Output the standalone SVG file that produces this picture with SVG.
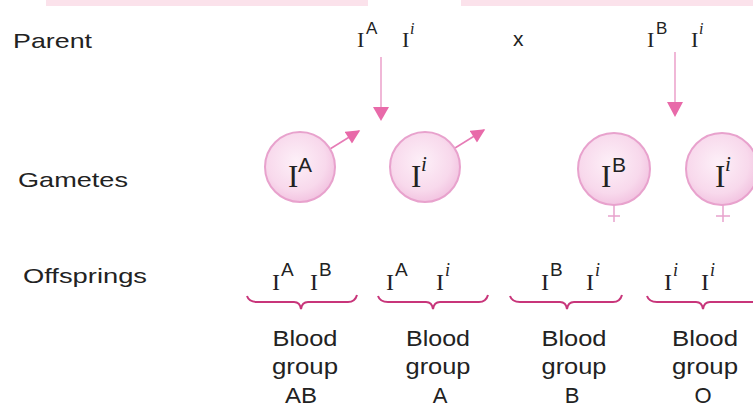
<svg xmlns="http://www.w3.org/2000/svg" width="753" height="407" viewBox="0 0 753 407">
<defs>
<radialGradient id="cg" cx="0.45" cy="0.42" r="0.6">
<stop offset="0" stop-color="#fdf0f8"/>
<stop offset="0.7" stop-color="#f8d9ec"/>
<stop offset="1" stop-color="#f2c2e0"/>
</radialGradient>
<marker id="mhm" viewBox="0 0 10 10" refX="9" refY="5" markerWidth="15" markerHeight="14" markerUnits="userSpaceOnUse" orient="auto">
<path d="M0,0 L10,5 L0,10 z" fill="#e86aa9"/>
</marker>
</defs>
<style>
.lbl{font-family:"Liberation Sans",Arial,sans-serif;font-size:21px;fill:#222}
.bg{font-family:"Liberation Sans",Arial,sans-serif;font-size:22px;fill:#222;text-anchor:middle}
.s{font-family:"Liberation Serif","Times New Roman",serif;fill:#222}
.ss{font-family:"Liberation Sans",Arial,sans-serif;fill:#222}
.it{font-family:"Liberation Serif","Times New Roman",serif;font-style:italic;fill:#222}
.gam{fill:url(#cg);stroke:#e8a2cd;stroke-width:2}
.fem{stroke:#e8a2cd;stroke-width:1.5;fill:none}
.arr{stroke:#e891c2;stroke-width:1.3;fill:none}
.male{stroke:#e67cb6;stroke-width:1.6;fill:none}
.brace{stroke:#c8357a;stroke-width:2;fill:none}
.band{fill:#fbe2eb}
</style>
<rect class="band" x="46" y="0" width="322" height="6"/>
<rect class="band" x="461" y="0" width="292" height="6"/>

<g id="row-labels">
<text class="lbl" x="13" y="48" textLength="79" lengthAdjust="spacingAndGlyphs">Parent</text>
<text class="lbl" x="18" y="187" textLength="110" lengthAdjust="spacingAndGlyphs">Gametes</text>
<text class="lbl" x="23" y="283" textLength="124" lengthAdjust="spacingAndGlyphs">Offsprings</text>
</g>

<g id="parent-1">
<text class="s" x="357" y="47" font-size="22">I</text>
<text class="ss" x="366" y="34" font-size="17">A</text>
<text class="s" x="402" y="47" font-size="22">I</text>
<text class="it" x="410" y="34" font-size="16">i</text>
</g>
<g id="cross">
<text class="ss" x="513" y="46" font-size="21">x</text>
</g>
<g id="parent-2">
<text class="s" x="647" y="47" font-size="22">I</text>
<text class="ss" x="656" y="34" font-size="17">B</text>
<text class="s" x="691" y="47" font-size="22">I</text>
<text class="it" x="699" y="34" font-size="16">i</text>
</g>

<g id="connectors">
<line class="arr" x1="381" y1="57" x2="381" y2="108"/>
<polygon points="373,107 389,107 381,121" fill="#e86aa9"/>
<line class="arr" x1="675" y1="52" x2="675" y2="103"/>
<polygon points="667,102 683,102 675,117" fill="#e86aa9"/>
</g>

<g id="gamete-IA">
<line class="male" x1="330" y1="149" x2="359" y2="131" marker-end="url(#mhm)"/>
<circle class="gam" cx="300" cy="167" r="35"/>
<text class="s" x="288" y="187" font-size="31">I</text>
<text class="ss" x="298" y="172" font-size="21">A</text>
</g>
<g id="gamete-Ii-male">
<line class="male" x1="455" y1="148" x2="484" y2="130" marker-end="url(#mhm)"/>
<circle class="gam" cx="425" cy="167" r="35"/>
<text class="s" x="411" y="187" font-size="31">I</text>
<text class="it" x="421" y="171" font-size="21">i</text>
</g>
<g id="gamete-IB">
<circle class="gam" cx="614" cy="169" r="36"/>
<path class="fem" d="M614,205 V222 M608,216 H620"/>
<text class="s" x="601" y="187" font-size="31">I</text>
<text class="ss" x="612" y="172" font-size="21">B</text>
</g>
<g id="gamete-Ii-female">
<circle class="gam" cx="722" cy="169" r="36"/>
<path class="fem" d="M723,205 V222 M716,216 H730"/>
<text class="s" x="715" y="187" font-size="31">I</text>
<text class="it" x="725" y="171" font-size="21">i</text>
</g>

<g id="offspring-AB">
<text class="s" x="272" y="290" font-size="24">I</text>
<text class="ss" x="281" y="276" font-size="19">A</text>
<text class="s" x="310" y="290" font-size="24">I</text>
<text class="ss" x="319" y="276" font-size="19">B</text>
<path class="brace" d="M247,296 Q249,302 257,302 L294,302 Q300,302 301,309 Q302,302 308,302 L348,302 Q355,302 357,295"/>
<text class="bg" x="305" y="346" textLength="65" lengthAdjust="spacingAndGlyphs">Blood</text>
<text class="bg" x="305" y="374" textLength="66" lengthAdjust="spacingAndGlyphs">group</text>
<text class="bg" x="301" y="403" textLength="32" lengthAdjust="spacingAndGlyphs">AB</text>
</g>
<g id="offspring-A">
<text class="s" x="386" y="290" font-size="24">I</text>
<text class="ss" x="395" y="276" font-size="19">A</text>
<text class="s" x="436" y="290" font-size="24">I</text>
<text class="it" x="445" y="276" font-size="18">i</text>
<path class="brace" d="M378,296 Q380,302 388,302 L426,302 Q432,302 433,309 Q434,302 440,302 L479,302 Q486,302 488,295"/>
<text class="bg" x="438" y="346" textLength="64" lengthAdjust="spacingAndGlyphs">Blood</text>
<text class="bg" x="438" y="374" textLength="65" lengthAdjust="spacingAndGlyphs">group</text>
<text class="bg" x="440" y="403">A</text>
</g>
<g id="offspring-B">
<text class="s" x="541" y="290" font-size="24">I</text>
<text class="ss" x="550" y="276" font-size="19">B</text>
<text class="s" x="586" y="290" font-size="24">I</text>
<text class="it" x="595" y="276" font-size="18">i</text>
<path class="brace" d="M510,296 Q512,302 520,302 L560,302 Q566,302 567,309 Q568,302 574,302 L613,302 Q620,302 622,295"/>
<text class="bg" x="574" y="346" textLength="65" lengthAdjust="spacingAndGlyphs">Blood</text>
<text class="bg" x="574" y="374" textLength="65" lengthAdjust="spacingAndGlyphs">group</text>
<text class="bg" x="572" y="403">B</text>
</g>
<g id="offspring-O">
<text class="s" x="664" y="290" font-size="24">I</text>
<text class="it" x="673" y="276" font-size="18">i</text>
<text class="s" x="701" y="290" font-size="24">I</text>
<text class="it" x="710" y="276" font-size="18">i</text>
<path class="brace" d="M647,296 Q649,302 657,302 L696,302 Q702,302 703,309 Q704,302 710,302 L753,302"/>
<text class="bg" x="705" y="346" textLength="66" lengthAdjust="spacingAndGlyphs">Blood</text>
<text class="bg" x="705" y="374" textLength="66" lengthAdjust="spacingAndGlyphs">group</text>
<text class="bg" x="703" y="403">O</text>
</g>
</svg>
